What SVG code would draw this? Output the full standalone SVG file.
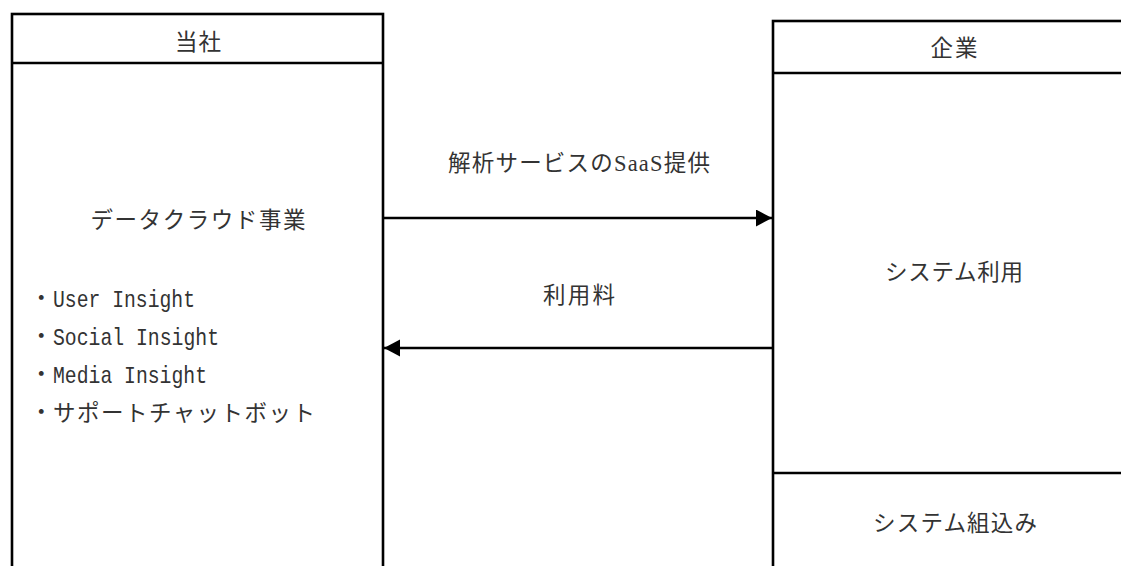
<svg xmlns="http://www.w3.org/2000/svg" width="1121" height="566" viewBox="0 0 1121 566">
  <style>
    .box { fill: #ffffff; stroke: #000000; stroke-width: 2.6; }
    .div { stroke: #000000; stroke-width: 2.6; fill: none; }
    .conn { stroke: #000000; stroke-width: 2.6; fill: none; }
    .t { font-family: "Liberation Serif", "Noto Sans CJK JP", serif; font-size: 22.5px; fill: #333333; }
    .c { text-anchor: middle; }
    .mono { font-family: "Liberation Mono", "Noto Sans CJK JP", monospace; font-size: 24px; fill: #333333; }
  </style>
  <defs>
    <marker id="arrow" markerUnits="userSpaceOnUse" markerWidth="17" markerHeight="18" refX="16" refY="8.5" orient="auto">
      <path d="M0,0 L16,8.5 L0,17 z" fill="#000000"/>
    </marker>
  </defs>
  <rect width="1121" height="566" fill="#ffffff"/>

  <g id="node-company">
    <rect class="box" x="12" y="14" width="371" height="580"/>
    <line class="div" x1="12" y1="63" x2="383" y2="63"/>
    <text class="t c" x="198" y="50" textLength="46" lengthAdjust="spacing">当社</text>
    <text class="t c" x="198" y="228" textLength="215" lengthAdjust="spacing">データクラウド事業</text>
    <text class="t"><tspan x="30" y="306">・</tspan><tspan class="mono" x="53" y="307" textLength="142" lengthAdjust="spacingAndGlyphs">User Insight</tspan></text>
    <text class="t"><tspan x="30" y="344">・</tspan><tspan class="mono" x="53" y="345" textLength="166" lengthAdjust="spacingAndGlyphs">Social Insight</tspan></text>
    <text class="t"><tspan x="30" y="382">・</tspan><tspan class="mono" x="53" y="383" textLength="154" lengthAdjust="spacingAndGlyphs">Media Insight</tspan></text>
    <text class="t"><tspan x="30" y="420">・</tspan><tspan x="53" y="421" textLength="262" lengthAdjust="spacing">サポートチャットボット</tspan></text>
  </g>

  <g id="node-client">
    <rect class="box" x="773" y="21" width="380" height="580"/>
    <line class="div" x1="773" y1="73" x2="1130" y2="73"/>
    <line class="div" x1="773" y1="473" x2="1130" y2="473"/>
    <text class="t c" x="954" y="56" textLength="47" lengthAdjust="spacing">企業</text>
    <text class="t c" x="954" y="280" textLength="138" lengthAdjust="spacing">システム利用</text>
    <text class="t c" x="955" y="531" textLength="164" lengthAdjust="spacing">システム組込み</text>
  </g>

  <g id="connectors">
    <line class="conn" x1="383" y1="218" x2="772" y2="218" marker-end="url(#arrow)"/>
    <line class="conn" x1="773" y1="348" x2="384" y2="348" marker-end="url(#arrow)"/>
    <text class="t c" x="579" y="171" textLength="262" lengthAdjust="spacing">解析サービスのSaaS提供</text>
    <text class="t c" x="579" y="303" textLength="72" lengthAdjust="spacing">利用料</text>
  </g>
</svg>
